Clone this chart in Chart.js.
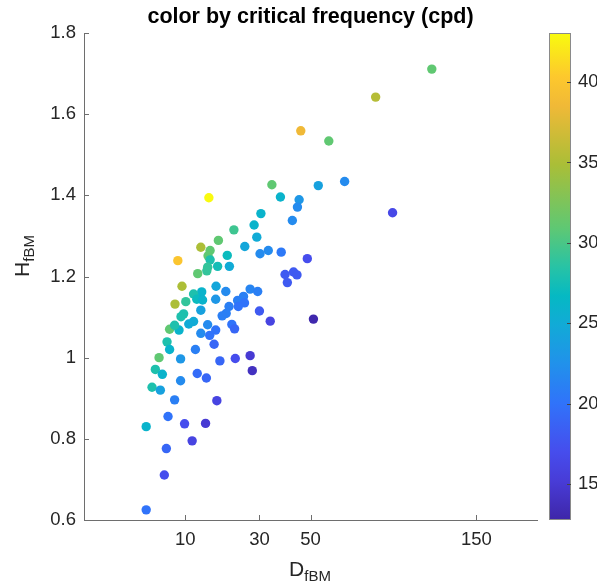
<!DOCTYPE html>
<html>
<head>
<meta charset="utf-8">
<script src="https://cdn.jsdelivr.net/npm/chart.js@4.4.1/dist/chart.umd.min.js"></script>
<style>
  html, body { margin: 0; padding: 0; background: #fff; }
  #wrap { width: 597px; height: 588px; }
</style>
</head>
<body>
<div id="wrap"><canvas id="scatterChart" width="597" height="588"></canvas></div>
<script>
// one entry per point: D_fBM (x), H_fBM (y), critical frequency in cpd (colour)
const dValues = [
  117.9, 82.9, 45.8, 58.4, 53.5, 66.2, 92.8, 37.6, 45.1, 44.4,
  42.3, 34.4, 15.2, 30.5, 28.2, 21.9, 17.6, 29.1, 13.3, 15.5,
  15.0, 25.2, 33.1, 30.2, 37.9, 20.0, 48.6, 8.58, 15.5, 17.4,
  20.6, 14.9, 14.7, 12.6, 39.4, 42.8, 44.2, 40.3, 9.36, 17.0,
  19.6, 26.9, 29.4, 13.5, 11.7, 12.4, 13.7, 16.9, 10.1, 8.07,
  24.8, 23.0, 25.1, 20.5, 23.2, 30.0, 13.3, 19.7, 18.6, 9.67,
  9.17, 33.8, 51.3, 11.7, 10.7, 14.9, 21.3, 22.1, 16.9, 7.14,
  8.80, 8.00, 13.3, 15.4, 16.5, 6.72, 12.1, 7.14, 5.49, 9.09,
  18.0, 22.3, 26.9, 27.6, 4.96, 5.98, 12.5, 14.6, 9.09, 4.51,
  5.68, 8.00, 17.2, 6.88, 9.86, 14.4, 3.77, 11.4, 6.61, 6.29,
  3.77
];
const hValues = [
  1.711, 1.642, 1.559, 1.534, 1.424, 1.434, 1.357, 1.396, 1.389, 1.371,
  1.338, 1.426, 1.394, 1.355, 1.327, 1.315, 1.289, 1.297, 1.272, 1.264,
  1.251, 1.274, 1.264, 1.256, 1.260, 1.252, 1.244, 1.239, 1.241, 1.225,
  1.225, 1.223, 1.214, 1.207, 1.205, 1.211, 1.204, 1.185, 1.176, 1.176,
  1.163, 1.169, 1.163, 1.162, 1.157, 1.144, 1.142, 1.144, 1.138, 1.132,
  1.151, 1.141, 1.135, 1.126, 1.126, 1.115, 1.117, 1.109, 1.103, 1.108,
  1.101, 1.090, 1.095, 1.089, 1.083, 1.081, 1.082, 1.071, 1.068, 1.070,
  1.068, 1.080, 1.060, 1.055, 1.033, 1.039, 1.020, 1.020, 1.000, 0.997,
  0.992, 0.998, 1.005, 0.968, 0.971, 0.959, 0.961, 0.950, 0.943, 0.927,
  0.920, 0.896, 0.894, 0.855, 0.837, 0.838, 0.830, 0.795, 0.776, 0.711,
  0.625
];
const cValues = [
  31, 35.5, 38.5, 31, 24, 22, 16.5, 26, 23, 22,
  22, 31, 43, 26, 26, 29.5, 31, 25, 35, 31,
  31, 24.5, 22, 22, 20.5, 27, 17, 40, 28, 27.5,
  25, 29, 29, 31, 18, 18, 18, 18, 35, 24.5,
  22, 21.5, 21, 26, 28, 27, 26, 23, 29, 35,
  21, 21, 20, 21, 20, 18, 24, 21, 21, 28,
  28, 16, 13, 25, 25, 22, 20, 19, 20, 31,
  26, 28, 22, 20, 19, 28, 21, 26, 31, 23,
  19, 17, 15, 14, 28, 26, 19.5, 19, 22, 28,
  24, 21, 16, 20, 17, 15, 26, 16, 19, 17,
  20
];

const xTicks = [10, 30, 50, 150];
const yTicks = [0.6, 0.8, 1, 1.2, 1.4, 1.6, 1.8];
const cTicks = [15, 20, 25, 30, 35, 40];
const xRange = [0, 200];
const yRange = [0.6, 1.8];
const cRange = [12.76, 43.05];

const titleText = "color by critical frequency (cpd)";
const xLabel = ["D", "fBM"];
const yLabel = ["H", "fBM"];

// parula-like colormap, position 0..1 -> rgb
const parulaStops = [
  [0.00, [62, 38, 168]],
  [0.08, [72, 60, 215]],
  [0.14, [70, 77, 237]],
  [0.24, [48, 115, 250]],
  [0.32, [33, 145, 235]],
  [0.40, [18, 170, 215]],
  [0.46, [5, 185, 195]],
  [0.52, [40, 195, 165]],
  [0.60, [95, 200, 115]],
  [0.73, [170, 190, 55]],
  [0.85, [240, 185, 55]],
  [0.91, [253, 200, 45]],
  [1.00, [249, 251, 14]]
];

function parula(t) {
  t = Math.min(1, Math.max(0, t));
  for (let i = 1; i < parulaStops.length; i++) {
    const [p1, c1] = parulaStops[i];
    const [p0, c0] = parulaStops[i - 1];
    if (t <= p1) {
      const f = (t - p0) / (p1 - p0);
      const c = c0.map((v, k) => Math.round(v + f * (c1[k] - v)));
      return `rgb(${c[0]},${c[1]},${c[2]})`;
    }
  }
  return "rgb(249,251,14)";
}

function colorFor(c) {
  return parula((c - cRange[0]) / (cRange[1] - cRange[0]));
}

// square-root axis (the x axis of the original figure)
class SqrtScale extends Chart.LinearScale {
  static id = "sqrt";
  static defaults = Chart.LinearScale.defaults;
  getPixelForValue(value) {
    const s0 = Math.sqrt(this.min), s1 = Math.sqrt(this.max);
    return this.getPixelForDecimal((Math.sqrt(value) - s0) / (s1 - s0));
  }
  getValueForPixel(pixel) {
    const s0 = Math.sqrt(this.min), s1 = Math.sqrt(this.max);
    const s = s0 + this.getDecimalForPixel(pixel) * (s1 - s0);
    return s * s;
  }
}
Chart.register(SqrtScale);

const FONT = '"Liberation Sans", Arial, Helvetica, sans-serif';
const textColor = "#262626";
const axisColor = "#6e6e6e";

function drawSubText(ctx, parts, x, y, size, subSize, subShift) {
  ctx.font = `${size}px ${FONT}`;
  const w1 = ctx.measureText(parts[0]).width;
  ctx.font = `${subSize}px ${FONT}`;
  const w2 = ctx.measureText(parts[1]).width;
  const start = x - (w1 + w2) / 2;
  ctx.textAlign = "left";
  ctx.textBaseline = "alphabetic";
  ctx.font = `${size}px ${FONT}`;
  ctx.fillText(parts[0], start, y);
  ctx.font = `${subSize}px ${FONT}`;
  ctx.fillText(parts[1], start + w1, y + subShift);
}

const decorations = {
  id: "decorations",
  afterDraw(chart) {
    const { ctx, chartArea, scales } = chart;
    const xs = scales.x, ys = scales.y, cs = scales.c;
    ctx.save();

    // inward tick marks
    ctx.strokeStyle = axisColor;
    ctx.lineWidth = 1;
    ctx.beginPath();
    xs.ticks.forEach((t, i) => {
      const px = Math.round(xs.getPixelForTick(i)) + 0.5;
      ctx.moveTo(px, chartArea.bottom);
      ctx.lineTo(px, chartArea.bottom - 5);
    });
    ys.ticks.forEach((t, i) => {
      const py = Math.round(ys.getPixelForTick(i)) + 0.5;
      ctx.moveTo(chartArea.left, py);
      ctx.lineTo(chartArea.left + 5, py);
    });
    ctx.stroke();

    // colour bar
    const barL = chartArea.right + 12, barW = 22;
    const grad = ctx.createLinearGradient(0, cs.bottom, 0, cs.top);
    parulaStops.forEach(([p, c]) => grad.addColorStop(p, `rgb(${c[0]},${c[1]},${c[2]})`));
    ctx.fillStyle = grad;
    ctx.fillRect(barL, cs.top, barW, cs.bottom - cs.top);
    ctx.strokeStyle = "#8a8a8a";
    ctx.strokeRect(barL + 0.5, cs.top + 0.5, barW - 1, cs.bottom - cs.top - 1);
    ctx.strokeStyle = "#444";
    ctx.beginPath();
    cs.ticks.forEach((t, i) => {
      const py = Math.round(cs.getPixelForTick(i)) + 0.5;
      ctx.moveTo(barL + barW, py);
      ctx.lineTo(barL + barW - 4, py);
    });
    ctx.stroke();

    // title
    ctx.fillStyle = "#000";
    ctx.font = `bold 21.5px ${FONT}`;
    ctx.textAlign = "center";
    ctx.textBaseline = "alphabetic";
    ctx.fillText(titleText, (chartArea.left + chartArea.right) / 2, 23);

    // axis labels with subscripts
    ctx.fillStyle = textColor;
    drawSubText(ctx, xLabel, 310, 576, 21, 15, 5);
    ctx.translate(29, 256);
    ctx.rotate(-Math.PI / 2);
    drawSubText(ctx, yLabel, 0, 0, 21, 15, 5);

    ctx.restore();
  }
};

const points = dValues.map((d, i) => ({ x: d, y: hValues[i] }));
const pointColors = cValues.map(colorFor);

const tickFont = { family: FONT, size: 18.5 };

new Chart(document.getElementById("scatterChart"), {
  type: "scatter",
  data: {
    datasets: [{
      data: points,
      backgroundColor: pointColors,
      borderColor: pointColors,
      borderWidth: 0,
      pointRadius: 4.7,
      pointHoverRadius: 4.7
    }]
  },
  options: {
    responsive: false,
    animation: false,
    devicePixelRatio: 1,
    layout: { padding: { top: 33, left: 0, right: 0, bottom: 0 } },
    plugins: {
      legend: { display: false },
      tooltip: { enabled: false },
      title: { display: false }
    },
    scales: {
      x: {
        type: "sqrt",
        position: "bottom",
        min: xRange[0],
        max: xRange[1],
        grid: { display: false, drawTicks: false },
        border: { display: true, color: axisColor, width: 1 },
        ticks: { font: tickFont, color: textColor, padding: 9, maxRotation: 0, callback: v => String(v) },
        afterBuildTicks: s => { s.ticks = xTicks.map(v => ({ value: v })); },
        afterFit: s => { s.height = 68; }
      },
      y: {
        type: "linear",
        position: "left",
        min: yRange[0],
        max: yRange[1],
        grid: { display: false, drawTicks: false },
        border: { display: true, color: axisColor, width: 1 },
        ticks: { font: tickFont, color: textColor, padding: 8, callback: v => String(+v.toFixed(1)) },
        afterBuildTicks: s => { s.ticks = yTicks.map(v => ({ value: v })); },
        afterFit: s => { s.width = 84; s.paddingTop = 0; s.paddingBottom = 0; }
      },
      c: {
        type: "linear",
        axis: "y",
        position: "right",
        min: cRange[0],
        max: cRange[1],
        grid: { display: false, drawTicks: false },
        border: { display: false },
        ticks: { font: tickFont, color: textColor, padding: 41, callback: v => String(v) },
        afterBuildTicks: s => { s.ticks = cTicks.map(v => ({ value: v })); },
        afterFit: s => { s.width = 60; s.paddingTop = 0; s.paddingBottom = 0; }
      }
    }
  },
  plugins: [decorations]
});
</script>
</body>
</html>
